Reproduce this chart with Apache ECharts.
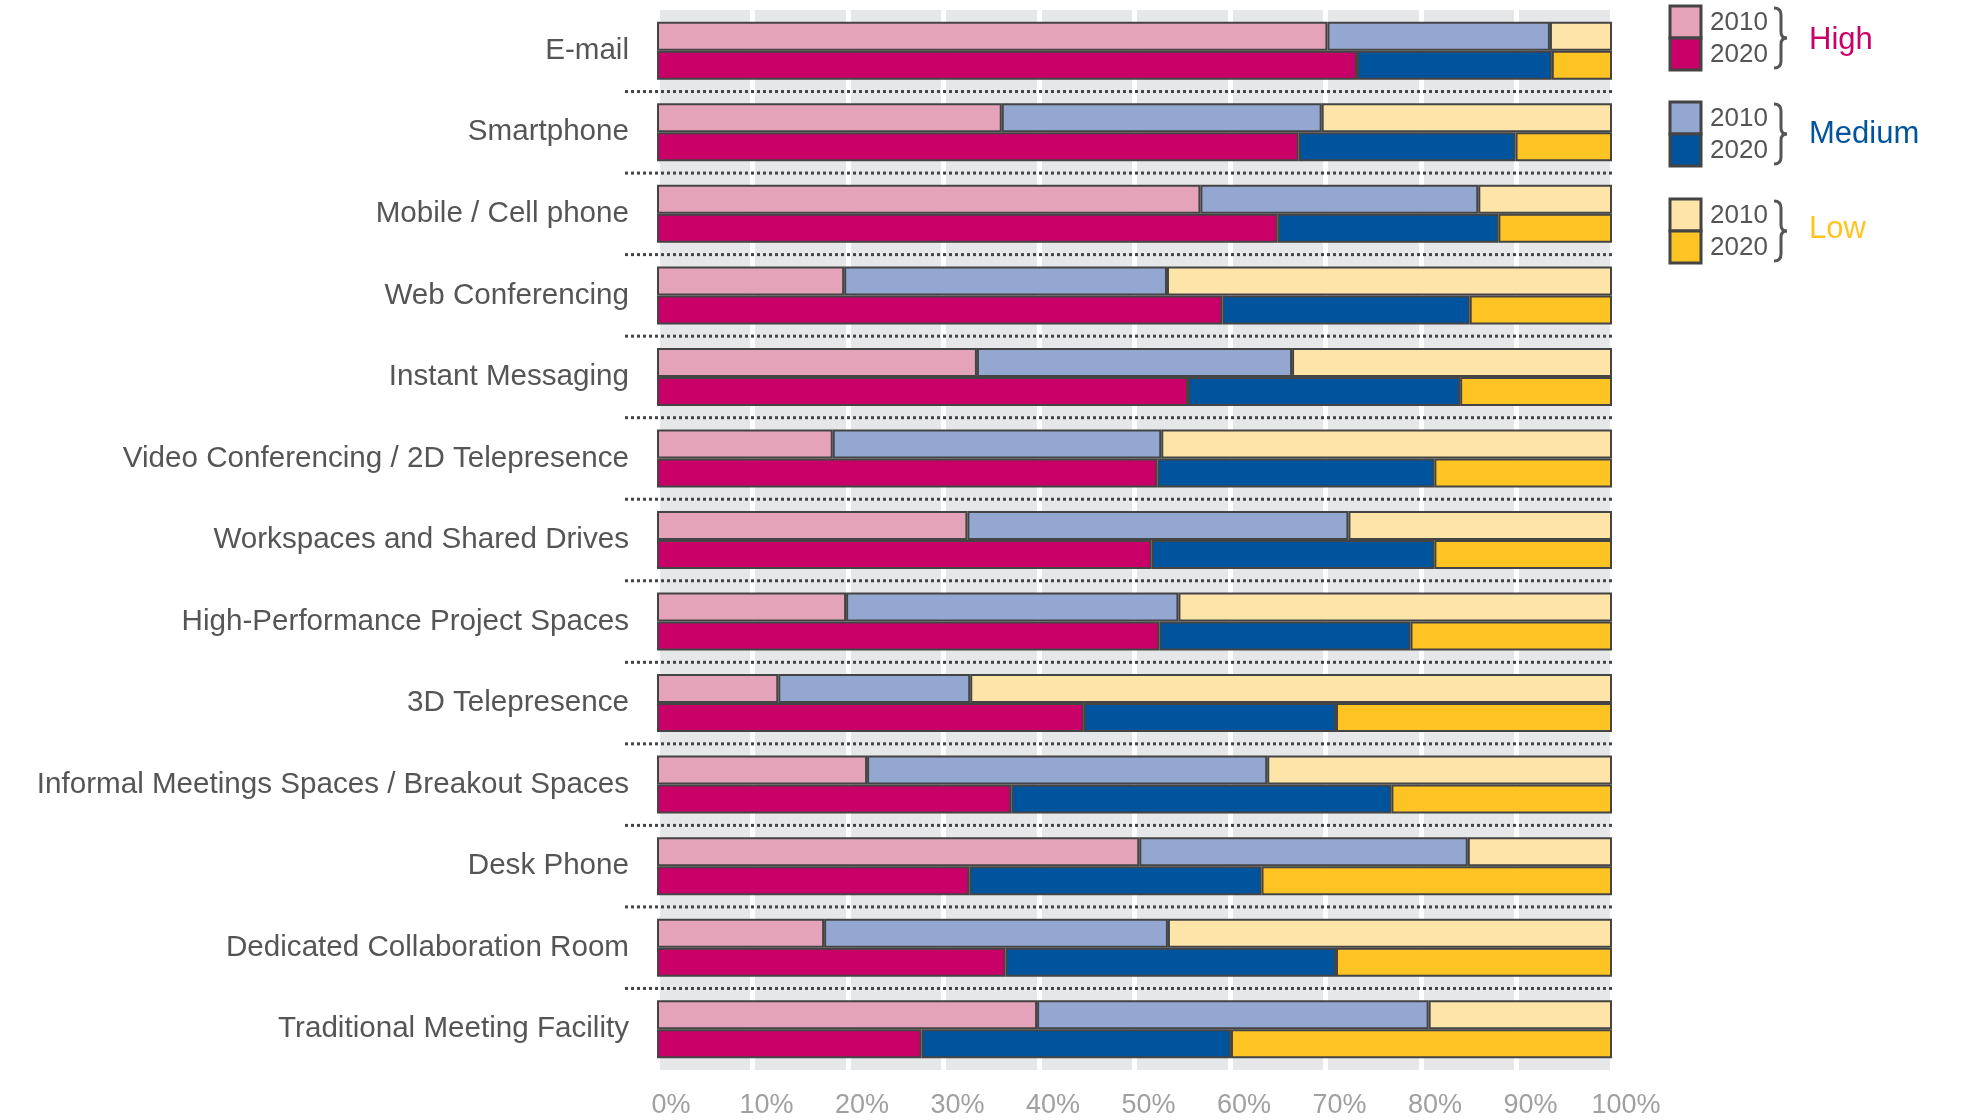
<!DOCTYPE html>
<html>
<head>
<meta charset="utf-8">
<script src="https://cdn.jsdelivr.net/npm/echarts@6/dist/echarts.min.js"></script>
<style>
  html, body { margin: 0; padding: 0; background: #fff; }
  #chart { width: 1967px; height: 1120px; }
</style>
</head>
<body>
<div id="chart"></div>
<script>
// categories, top to bottom
const categories = [
  'E-mail',
  'Smartphone',
  'Mobile / Cell phone',
  'Web Conferencing',
  'Instant Messaging',
  'Video Conferencing / 2D Telepresence',
  'Workspaces and Shared Drives',
  'High-Performance Project Spaces',
  '3D Telepresence',
  'Informal Meetings Spaces / Breakout Spaces',
  'Desk Phone',
  'Dedicated Collaboration Room',
  'Traditional Meeting Facility'
]

// share of respondents (%) per usage level
const high2010 = [70.2, 36.1, 56.9, 19.6, 33.5, 18.4, 32.5, 19.8, 12.7, 22.0, 50.5, 17.5, 39.8]
const medium2010 = [23.3, 33.5, 29.1, 33.8, 33.0, 34.4, 39.9, 34.8, 20.1, 41.9, 34.4, 36.0, 41.0]
const low2010 = [6.5, 30.4, 14.0, 46.6, 33.5, 47.2, 27.6, 45.4, 67.2, 36.1, 15.1, 46.5, 19.2]

const high2020 = [73.3, 67.2, 65.0, 59.2, 55.6, 52.4, 51.8, 52.6, 44.7, 37.1, 32.7, 36.5, 27.7]
const medium2020 = [20.4, 22.7, 23.1, 25.9, 28.5, 29.0, 29.6, 26.3, 26.4, 39.8, 30.6, 34.6, 32.4]
const low2020 = [6.3, 10.1, 11.9, 14.9, 15.9, 18.6, 18.6, 21.1, 28.9, 23.1, 36.7, 28.9, 39.9]

const xTicks = [0, 10, 20, 30, 40, 50, 60, 70, 80, 90, 100]

const colors = {
  high: ['#e5a3b9', '#c90068'],
  medium: ['#93a7d1', '#00539d'],
  low: ['#fde4a8', '#fec423']
}
const borderColor = '#444'
const barHeight = 29
const font = '"Liberation Sans", Arial, sans-serif'

function barSeries(name, data, stack, color) {
  return {
    name,
    type: 'bar',
    stack,
    data,
    barWidth: barHeight,
    barGap: '0%',
    itemStyle: { color, borderColor, borderWidth: 2 },
    z: 3
  }
}

// curly brace "}" made of lines and curves, 60px tall
function brace(x, y) {
  const st = { stroke: '#555', lineWidth: 3, fill: null }
  const parts = [
    { type: 'bezierCurve', shape: { x1: 0, y1: 0, cpx1: 7, cpy1: 0, x2: 7, y2: 7 } },
    { type: 'line', shape: { x1: 7, y1: 7, x2: 7, y2: 24 } },
    { type: 'bezierCurve', shape: { x1: 7, y1: 24, cpx1: 7, cpy1: 30, x2: 13, y2: 30 } },
    { type: 'bezierCurve', shape: { x1: 13, y1: 30, cpx1: 7, cpy1: 30, x2: 7, y2: 36 } },
    { type: 'line', shape: { x1: 7, y1: 36, x2: 7, y2: 53 } },
    { type: 'bezierCurve', shape: { x1: 7, y1: 53, cpx1: 7, cpy1: 60, x2: 0, y2: 60 } }
  ]
  return { type: 'group', x, y, children: parts.map(p => Object.assign(p, { style: st })) }
}

const chart = echarts.init(document.getElementById('chart'))

// legend blocks on the right
const legendBlocks = [
  { label: 'High', color: '#c90068', fills: colors.high, top: 6, labelY: 40 },
  { label: 'Medium', color: '#00539d', fills: colors.medium, top: 102, labelY: 134 },
  { label: 'Low', color: '#fec423', fills: colors.low, top: 199, labelY: 229 }
]
const legendGraphics = []
legendBlocks.forEach(b => {
  const h = 32
  legendGraphics.push(
    { type: 'rect', x: 1670, y: b.top, shape: { width: 31, height: h }, style: { fill: b.fills[0], stroke: borderColor, lineWidth: 3 } },
    { type: 'rect', x: 1670, y: b.top + h, shape: { width: 31, height: h }, style: { fill: b.fills[1], stroke: borderColor, lineWidth: 3 } },
    { type: 'text', x: 1710, y: b.top + h / 2 + 1, style: { text: '2010', fill: '#555', font: '26px ' + font, verticalAlign: 'middle' } },
    { type: 'text', x: 1710, y: b.top + h * 1.5 + 1, style: { text: '2020', fill: '#555', font: '26px ' + font, verticalAlign: 'middle' } },
    brace(1774, b.top + 2),
    { type: 'text', x: 1809, y: b.labelY, style: { text: b.label, fill: b.color, font: '31px ' + font, verticalAlign: 'middle' } }
  )
})

chart.setOption({
  animation: false,
  backgroundColor: '#fff',
  grid: {
    left: 657,
    right: 355,
    top: 10,
    bottom: 50,
    show: true,
    backgroundColor: '#e6e7e8',
    borderWidth: 0
  },
  xAxis: {
    type: 'value',
    min: 0,
    max: 100,
    interval: 10,
    axisLine: { show: false },
    axisTick: { show: false },
    splitLine: { show: true, lineStyle: { color: '#fff', width: 5 } },
    axisLabel: {
      formatter: v => xTicks.includes(v) ? v + '%' : '',
      color: '#a0a0a0',
      fontSize: 27,
      fontFamily: font,
      margin: 22,
      padding: [0, 0, 0, 28]
    }
  },
  yAxis: {
    type: 'category',
    data: categories,
    inverse: true,
    axisLine: { show: false },
    axisTick: { show: false },
    splitLine: { show: false },
    axisLabel: {
      color: '#555',
      fontSize: 29.6,
      fontFamily: font,
      margin: 28,
      padding: [2, 0, 0, 0]
    }
  },
  series: [
    barSeries('High 2010', high2010, 'y2010', colors.high[0]),
    barSeries('Medium 2010', medium2010, 'y2010', colors.medium[0]),
    barSeries('Low 2010', low2010, 'y2010', colors.low[0]),
    barSeries('High 2020', high2020, 'y2020', colors.high[1]),
    barSeries('Medium 2020', medium2020, 'y2020', colors.medium[1]),
    barSeries('Low 2020', low2020, 'y2020', colors.low[1]),
    {
      // dotted separators between categories
      type: 'custom',
      data: categories.slice(0, -1).map((c, i) => [0, i]),
      encode: { x: 0, y: 1 },
      silent: true,
      z: 2,
      renderItem(params, api) {
        const c = api.coord([0, api.value(1)])
        const band = api.size([0, 1])[1]
        const y = c[1] + band / 2
        const cs = params.coordSys
        return {
          type: 'line',
          shape: { x1: cs.x - 32, y1: y, x2: cs.x + cs.width, y2: y },
          style: { stroke: borderColor, lineWidth: 3, lineDash: [3, 3] }
        }
      }
    }
  ],
  graphic: legendGraphics
})
</script>
</body>
</html>
